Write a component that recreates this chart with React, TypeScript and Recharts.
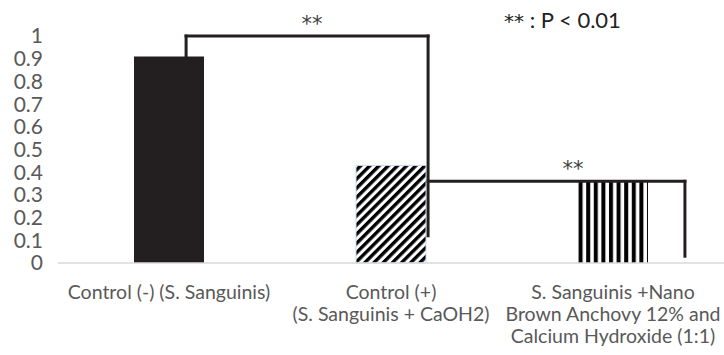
import { BarChart, Bar, Cell, XAxis, YAxis, ReferenceLine, ReferenceDot } from 'recharts';

const categories = [
  ['Control (-) (S. Sanguinis)'],
  ['Control (+)', '(S. Sanguinis + CaOH2)'],
  ['S. Sanguinis +Nano', 'Brown Anchovy 12% and', 'Calcium Hydroxide (1:1)'],
];
const values = [0.91, 0.43, 0.36];
const yTicks = [0, 0.1, 0.2, 0.3, 0.4, 0.5, 0.6, 0.7, 0.8, 0.9, 1];

// significance brackets, x in category units (0..3)
const bracketTop = [[0.577, 0.91], [0.577, 1], [1.667, 1], [1.667, 0.12]];
const bracketLow = [[1.667, 0.36], [2.824, 0.36], [2.824, 0.03]];
const starMarks = [{ x: 1.144, y: 1 }, { x: 2.32, y: 0.36 }];

const fills = ['#231f20', 'url(#diag)', 'url(#vert)'];
const strokes = ['none', '#c6d9f1', 'none'];

const FONT = 'Lato, "Open Sans", sans-serif';
const STAR_FONT = '"DejaVu Sans", sans-serif';

const data = categories.map((c, i) => ({ name: c.join('|'), value: values[i], pos: i + 0.5 }));

function CatTick(props: any) {
  const { x, y, payload } = props;
  const lines = String(payload.value).split('|');
  return (
    <text x={x} y={y + 28} textAnchor="middle" fill="#595959" fontSize={19.5} fontFamily={FONT}>
      {lines.map((l, i) => (
        <tspan key={i} x={x} dy={i === 0 ? 0 : 22}>{l}</tspan>
      ))}
    </text>
  );
}

function StarLabel(props: any) {
  const { viewBox } = props;
  return (
    <text x={viewBox.x} y={viewBox.y - 5} textAnchor="middle" fill="#404040" fontSize={21} fontFamily={STAR_FONT}>
      **
    </text>
  );
}

function segments(pts: number[][]) {
  const out = [];
  for (let i = 0; i < pts.length - 1; i++) {
    out.push(
      <ReferenceLine
        key={i + '-' + pts[i].join(',')}
        xAxisId="pos"
        segment={[{ x: pts[i][0], y: pts[i][1] }, { x: pts[i + 1][0], y: pts[i + 1][1] }]}
        stroke="#231f20"
        strokeWidth={3}
        strokeLinecap="square"
        ifOverflow="visible"
      />
    );
  }
  return out;
}

export default function App() {
  return (
    <div style={{ position: 'absolute', left: 0, top: 0, width: 724, height: 355, background: '#fff' }}>
      <svg width={0} height={0} style={{ position: 'absolute' }}>
        <defs>
          <pattern id="diag" patternUnits="userSpaceOnUse" width={6.5} height={6.5} patternTransform="rotate(45)">
            <rect x={0} y={0} width={6.5} height={6.5} fill="#fff" />
            <rect x={0} y={0} width={3.4} height={6.5} fill="#000" />
          </pattern>
          <pattern id="vert" patternUnits="userSpaceOnUse" width={7.6} height={10}>
            <rect x={0} y={0} width={7.6} height={10} fill="#fff" />
            <rect x={1} y={0} width={4} height={10} fill="#000" />
          </pattern>
        </defs>
      </svg>
      <BarChart width={724} height={355} data={data} margin={{ top: 36, right: 0, bottom: 0, left: 8 }} barSize={70}>
        <XAxis
          dataKey="name"
          axisLine={{ stroke: '#d9d9d9', strokeWidth: 1.5 }}
          tickLine={false}
          height={92}
          interval={0}
          tick={<CatTick />}
        />
        <XAxis xAxisId="pos" dataKey="pos" type="number" domain={[0, 3]} allowDataOverflow hide />
        <YAxis
          domain={[0, 1]}
          ticks={yTicks}
          interval={0}
          axisLine={false}
          tickLine={false}
          width={50}
          tickMargin={9}
          tick={{ fill: '#595959', fontSize: 21, fontFamily: FONT }}
        />
        <Bar dataKey="value" isAnimationActive={false}>
          {data.map((d, i) => (
            <Cell key={d.name} fill={fills[i]} stroke={strokes[i]} strokeWidth={1} />
          ))}
        </Bar>
        {segments(bracketTop)}
        {segments(bracketLow)}
        {starMarks.map((s) => (
          <ReferenceDot
            key={s.x}
            xAxisId="pos"
            x={s.x}
            y={s.y}
            r={0}
            fill="none"
            stroke="none"
            ifOverflow="visible"
            label={<StarLabel />}
          />
        ))}
      </BarChart>
      <div style={{ position: 'absolute', left: 504, top: 6, fontSize: 22, fontFamily: FONT, color: '#222', whiteSpace: 'nowrap' }}>
        <span style={{ fontFamily: STAR_FONT, fontSize: 20 }}>**</span> : P &lt; 0.01
      </div>
    </div>
  );
}
